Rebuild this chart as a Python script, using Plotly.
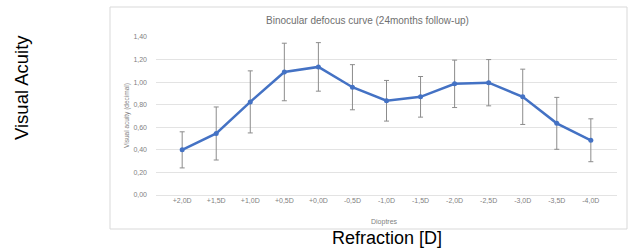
import plotly.graph_objects as go

categories = ["+2,0D", "+1,5D", "+1,0D", "+0,5D", "+0,0D", "-0,5D", "-1,0D",
              "-1,5D", "-2,0D", "-2,5D", "-3,0D", "-3,5D", "-4,0D"]
acuity = [0.40, 0.545, 0.825, 1.09, 1.135, 0.955, 0.835, 0.87, 0.985, 0.995, 0.87, 0.635, 0.485]
errors = [0.16, 0.235, 0.275, 0.255, 0.215, 0.20, 0.18, 0.18, 0.21, 0.205, 0.245, 0.23, 0.19]
ytick_vals = [0.0, 0.2, 0.4, 0.6, 0.8, 1.0, 1.2, 1.4]
ytick_text = ["0,00", "0,20", "0,40", "0,60", "0,80", "1,00", "1,20", "1,40"]

L, R, T, B = 156, 617, 37, 195
PW, PH = R - L, B - T


def px(x):
    return (x - L) / PW


def py(y):
    return (B - y) / PH


fig = go.Figure()
fig.add_trace(go.Scatter(
    x=categories, y=acuity, mode="lines+markers",
    line=dict(color="#4472C4", width=2.5),
    marker=dict(color="#4472C4", size=5),
    error_y=dict(type="data", array=errors, visible=True,
                 color="#8c8c8c", thickness=1, width=2.5),
    showlegend=False,
))

grey = "#7f7f7f"
fig.update_layout(
    width=633, height=250,
    margin=dict(l=L, r=633 - R, t=T, b=250 - B, autoexpand=False),
    paper_bgcolor="white", plot_bgcolor="white",
    font=dict(family="Liberation Sans, Arial", color=grey, size=7),
    xaxis=dict(type="category", showgrid=False, showline=False, zeroline=False,
               ticks="", tickfont=dict(size=7, color=grey), automargin=False),
    yaxis=dict(range=[0, 1.4], tickvals=ytick_vals, ticktext=ytick_text,
               showgrid=True, gridcolor="#e3e3e3", gridwidth=1,
               zeroline=True, zerolinecolor="#e3e3e3", zerolinewidth=1,
               showline=False, ticks="", ticklabelstandoff=8, automargin=False,
               tickfont=dict(size=7, color=grey)),
    shapes=[dict(type="rect", xref="paper", yref="paper",
                 x0=px(110), x1=px(627), y0=py(229), y1=py(7),
                 line=dict(color="#d9d9d9", width=1), layer="below")],
    annotations=[
        dict(text="Binocular defocus curve (24months follow-up)", xref="paper", yref="paper",
             x=px(367), y=py(20), showarrow=False, xanchor="center", yanchor="middle",
             font=dict(size=10, color="#707070")),
        dict(text="Visual acuity (decimal)", xref="paper", yref="paper",
             x=px(127), y=py(116), textangle=-90, showarrow=False,
             xanchor="center", yanchor="middle", font=dict(size=6.5, color=grey)),
        dict(text="Dioptres", xref="paper", yref="paper",
             x=px(384), y=py(222), showarrow=False,
             xanchor="center", yanchor="middle", font=dict(size=7, color=grey)),
        dict(text="Visual Acuity", xref="paper", yref="paper", x=px(21),
             y=py(88), textangle=-90, showarrow=False,
             xanchor="center", yanchor="middle",
             font=dict(size=18.5, color="black", family="Liberation Sans, Arial")),
        dict(text="Refraction [D]", xref="paper", yref="paper", x=px(387),
             y=py(238), showarrow=False, xanchor="center", yanchor="middle",
             font=dict(size=18, color="black", family="Liberation Sans, Arial")),
    ],
)

fig.write_html("out.html", config={"displayModeBar": False},
               post_script="document.body.style.margin='0';document.body.style.overflow='hidden';")
